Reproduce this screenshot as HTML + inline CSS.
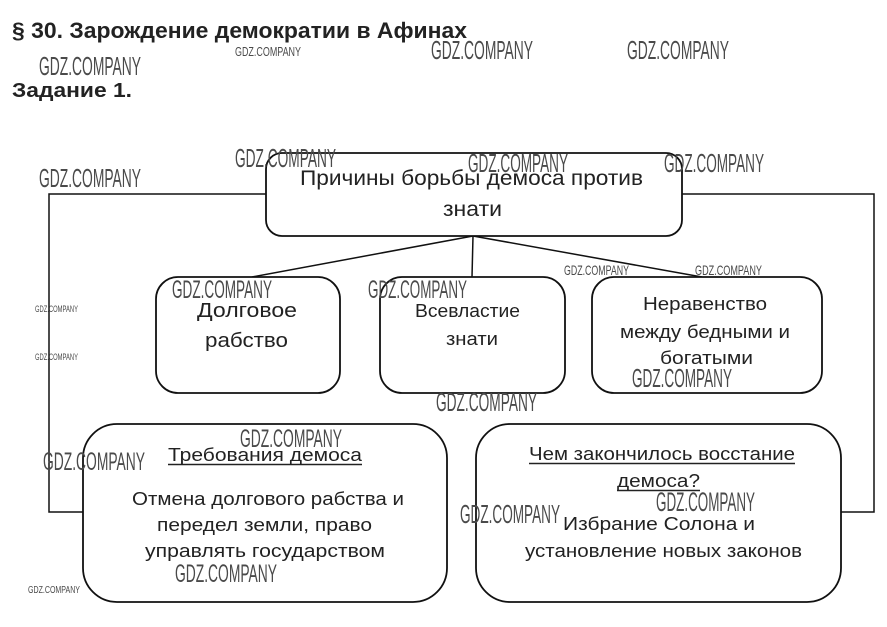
<!DOCTYPE html>
<html><head><meta charset="utf-8"><style>
html,body{margin:0;padding:0;background:#fff;}
svg{display:block;}
.t{font-family:"Liberation Sans","DejaVu Sans",sans-serif;fill:#222;}
.w{font-family:"Liberation Sans","DejaVu Sans",sans-serif;fill:#4a4a4a;}
</style></head><body>
<svg width="887" height="627" viewBox="0 0 887 627" xmlns="http://www.w3.org/2000/svg">
<rect width="887" height="627" fill="#fff"/>
<text class="t" x="12" y="38" font-size="22" font-weight="bold" textLength="455" lengthAdjust="spacingAndGlyphs">§ 30. Зарождение демократии в Афинах</text>
<text class="t" x="12" y="97" font-size="20" font-weight="bold" textLength="120" lengthAdjust="spacingAndGlyphs">Задание 1.</text>

<g fill="none" stroke="#111" stroke-width="1.5">
<polyline points="266,194 49,194 49,512 83,512"/>
<polyline points="682,194 874,194 874,512 841,512"/>
<line x1="473" y1="236" x2="252" y2="277"/>
<line x1="473" y1="236" x2="472" y2="277"/>
<line x1="473" y1="236" x2="702" y2="277"/>
</g>
<g fill="#fff" stroke="#111" stroke-width="1.8">
<rect x="266" y="153" width="416" height="83" rx="16" ry="16"/>
<rect x="156" y="277" width="184" height="116" rx="22" ry="22"/>
<rect x="380" y="277" width="185" height="116" rx="22" ry="22"/>
<rect x="592" y="277" width="230" height="116" rx="22" ry="22"/>
<rect x="83" y="424" width="364" height="178" rx="34" ry="34"/>
<rect x="476" y="424" width="365" height="178" rx="34" ry="34"/>
</g>

<text class="t" x="300" y="185" font-size="21" textLength="343" lengthAdjust="spacingAndGlyphs">Причины борьбы демоса против</text>
<text class="t" x="443" y="216" font-size="21" textLength="59" lengthAdjust="spacingAndGlyphs">знати</text>

<text class="t" x="197" y="317" font-size="20" textLength="100" lengthAdjust="spacingAndGlyphs">Долговое</text>
<text class="t" x="205" y="347" font-size="20" textLength="83" lengthAdjust="spacingAndGlyphs">рабство</text>

<text class="t" x="415" y="317" font-size="18" textLength="105" lengthAdjust="spacingAndGlyphs">Всевластие</text>
<text class="t" x="446" y="345" font-size="18" textLength="52" lengthAdjust="spacingAndGlyphs">знати</text>

<text class="t" x="643" y="310" font-size="18" textLength="124" lengthAdjust="spacingAndGlyphs">Неравенство</text>
<text class="t" x="620" y="338" font-size="18" textLength="170" lengthAdjust="spacingAndGlyphs">между бедными и</text>
<text class="t" x="660" y="364" font-size="18" textLength="93" lengthAdjust="spacingAndGlyphs">богатыми</text>

<text class="t" x="168" y="461" font-size="18" textLength="194" lengthAdjust="spacingAndGlyphs">Требования демоса</text>
<line x1="168" y1="464.5" x2="362" y2="464.5" stroke="#222" stroke-width="1.5"/>
<text class="t" x="132" y="505" font-size="18" textLength="272" lengthAdjust="spacingAndGlyphs">Отмена долгового рабства и</text>
<text class="t" x="157" y="531" font-size="18" textLength="215" lengthAdjust="spacingAndGlyphs">передел земли, право</text>
<text class="t" x="145" y="557" font-size="18" textLength="240" lengthAdjust="spacingAndGlyphs">управлять государством</text>

<text class="t" x="529" y="460" font-size="18" textLength="266" lengthAdjust="spacingAndGlyphs">Чем закончилось восстание</text>
<line x1="529" y1="463.5" x2="795" y2="463.5" stroke="#222" stroke-width="1.5"/>
<text class="t" x="617" y="487" font-size="18" textLength="83" lengthAdjust="spacingAndGlyphs">демоса?</text>
<line x1="617" y1="490.5" x2="700" y2="490.5" stroke="#222" stroke-width="1.5"/>
<text class="t" x="563" y="530" font-size="18" textLength="192" lengthAdjust="spacingAndGlyphs">Избрание Солона и</text>
<text class="t" x="525" y="557" font-size="18" textLength="277" lengthAdjust="spacingAndGlyphs">установление новых законов</text>

<g class="w">
<text class="w" x="235" y="56" font-size="13" textLength="66" lengthAdjust="spacingAndGlyphs">GDZ.COMPANY</text>
<text class="w" x="431" y="59" font-size="26" textLength="102" lengthAdjust="spacingAndGlyphs">GDZ.COMPANY</text>
<text class="w" x="627" y="59" font-size="26" textLength="102" lengthAdjust="spacingAndGlyphs">GDZ.COMPANY</text>
<text class="w" x="39" y="75" font-size="26" textLength="102" lengthAdjust="spacingAndGlyphs">GDZ.COMPANY</text>
<text class="w" x="39" y="187" font-size="26" textLength="102" lengthAdjust="spacingAndGlyphs">GDZ.COMPANY</text>
<text class="w" x="235" y="167" font-size="26" textLength="101" lengthAdjust="spacingAndGlyphs">GDZ.COMPANY</text>
<text class="w" x="468" y="172" font-size="26" textLength="100" lengthAdjust="spacingAndGlyphs">GDZ.COMPANY</text>
<text class="w" x="664" y="172" font-size="26" textLength="100" lengthAdjust="spacingAndGlyphs">GDZ.COMPANY</text>
<text class="w" x="564" y="275" font-size="14" textLength="65" lengthAdjust="spacingAndGlyphs">GDZ.COMPANY</text>
<text class="w" x="695" y="275" font-size="14" textLength="67" lengthAdjust="spacingAndGlyphs">GDZ.COMPANY</text>
<text class="w" x="35" y="312" font-size="9.5" textLength="43" lengthAdjust="spacingAndGlyphs">GDZ.COMPANY</text>
<text class="w" x="35" y="360" font-size="9.5" textLength="43" lengthAdjust="spacingAndGlyphs">GDZ.COMPANY</text>
<text class="w" x="172" y="298" font-size="25" textLength="100" lengthAdjust="spacingAndGlyphs">GDZ.COMPANY</text>
<text class="w" x="368" y="298" font-size="25" textLength="99" lengthAdjust="spacingAndGlyphs">GDZ.COMPANY</text>
<text class="w" x="632" y="387" font-size="26" textLength="100" lengthAdjust="spacingAndGlyphs">GDZ.COMPANY</text>
<text class="w" x="436" y="411" font-size="26" textLength="101" lengthAdjust="spacingAndGlyphs">GDZ.COMPANY</text>
<text class="w" x="240" y="447" font-size="25" textLength="102" lengthAdjust="spacingAndGlyphs">GDZ.COMPANY</text>
<text class="w" x="43" y="470" font-size="25" textLength="102" lengthAdjust="spacingAndGlyphs">GDZ.COMPANY</text>
<text class="w" x="656" y="511" font-size="27" textLength="99" lengthAdjust="spacingAndGlyphs">GDZ.COMPANY</text>
<text class="w" x="460" y="523" font-size="26" textLength="100" lengthAdjust="spacingAndGlyphs">GDZ.COMPANY</text>
<text class="w" x="175" y="582" font-size="25" textLength="102" lengthAdjust="spacingAndGlyphs">GDZ.COMPANY</text>
<text class="w" x="28" y="593" font-size="10.5" textLength="52" lengthAdjust="spacingAndGlyphs">GDZ.COMPANY</text>
</g>
</svg>
</body></html>
